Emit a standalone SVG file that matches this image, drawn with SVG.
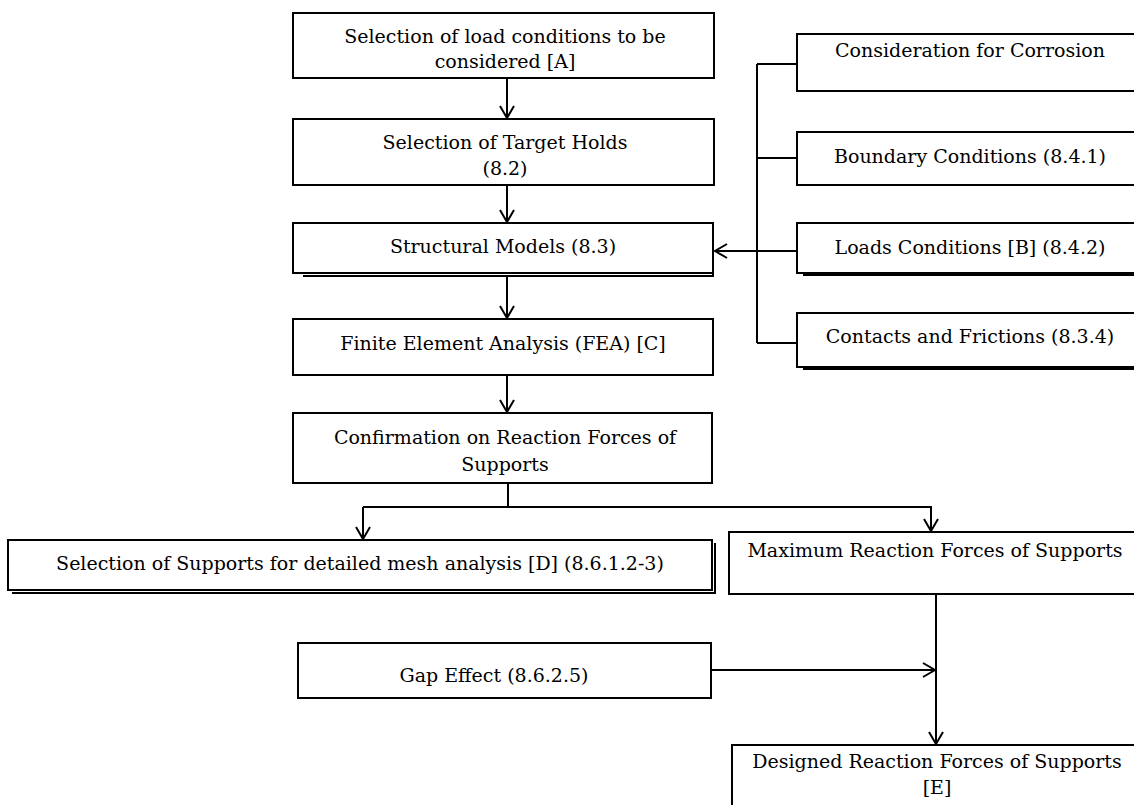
<svg xmlns="http://www.w3.org/2000/svg" width="1134" height="805" viewBox="0 0 1134 805">
<style>
.b{fill:#fff;stroke:#000;stroke-width:2}
.s{fill:none;stroke:#000;stroke-width:2}
.l{fill:none;stroke:#000;stroke-width:2}
text{font-family:"DejaVu Serif","Liberation Serif",serif;font-size:19px;fill:#000;text-anchor:middle}
</style>
<defs>
<marker id="ah" markerWidth="16" markerHeight="16" refX="14" refY="8" orient="auto" markerUnits="userSpaceOnUse">
<path d="M2,1 L14,8 L2,15" fill="none" stroke="#000" stroke-width="2"/>
</marker>
</defs>
<rect width="1134" height="805" fill="#fff"/>
<g id="connectors">
<line class="l" x1="507" y1="78" x2="507" y2="118" marker-end="url(#ah)"/>
<line class="l" x1="507" y1="185" x2="507" y2="222" marker-end="url(#ah)"/>
<line class="l" x1="507" y1="276" x2="507" y2="318" marker-end="url(#ah)"/>
<line class="l" x1="507" y1="375" x2="507" y2="412" marker-end="url(#ah)"/>
<polyline class="l" points="757,64 757,343"/>
<line class="l" x1="757" y1="64" x2="797" y2="64"/>
<line class="l" x1="757" y1="158" x2="797" y2="158"/>
<line class="l" x1="757" y1="343" x2="797" y2="343"/>
<line class="l" x1="797" y1="251" x2="715" y2="251" marker-end="url(#ah)"/>
<line class="l" x1="508" y1="483" x2="508" y2="507"/>
<polyline class="l" points="363,507 931,507 931,531" marker-end="url(#ah)"/>
<line class="l" x1="363" y1="507" x2="363" y2="539" marker-end="url(#ah)"/>
<line class="l" x1="936" y1="594" x2="936" y2="744" marker-end="url(#ah)"/>
<line class="l" x1="711" y1="670" x2="935" y2="670" marker-end="url(#ah)"/>
</g>
<g id="n1"><rect class="b" x="293" y="13" width="421" height="65"/>
<text x="505" y="43">Selection of load conditions to be</text>
<text x="505" y="68">considered [A]</text></g>
<g id="n2"><rect class="b" x="293" y="119" width="421" height="66"/>
<text x="505" y="149">Selection of Target Holds</text>
<text x="505" y="175">(8.2)</text></g>
<g id="n3"><polyline class="s" points="303,276 713,276 713,230"/><rect class="b" x="293" y="223" width="420" height="50"/>
<text x="503" y="253">Structural Models (8.3)</text></g>
<g id="n4"><rect class="b" x="293" y="319" width="420" height="56"/>
<text x="503" y="350">Finite Element Analysis (FEA) [C]</text></g>
<g id="n5"><rect class="b" x="293" y="413" width="419" height="70"/>
<text x="505" y="444">Confirmation on Reaction Forces of</text>
<text x="505" y="471">Supports</text></g>
<g id="n6"><polyline class="s" points="12,593 715,593 715,543"/><rect class="b" x="8" y="540" width="704" height="50"/>
<text x="360" y="570">Selection of Supports for detailed mesh analysis [D] (8.6.1.2-3)</text></g>
<g id="n7"><rect class="b" x="729" y="532" width="420" height="62"/>
<text x="935" y="557">Maximum Reaction Forces of Supports</text></g>
<g id="n8"><rect class="b" x="298" y="643" width="413" height="55"/>
<text x="494" y="682">Gap Effect (8.6.2.5)</text></g>
<g id="n9"><rect class="b" x="732" y="745" width="420" height="70"/>
<text x="937" y="768">Designed Reaction Forces of Supports</text>
<text x="937" y="794">[E]</text></g>
<g id="n10"><rect class="b" x="797" y="34" width="350" height="57"/>
<text x="970" y="57">Consideration for Corrosion</text></g>
<g id="n11"><rect class="b" x="797" y="132" width="350" height="53"/>
<text x="970" y="163">Boundary Conditions (8.4.1)</text></g>
<g id="n12"><line class="s" x1="803" y1="275" x2="1140" y2="275"/><rect class="b" x="797" y="223" width="350" height="50"/>
<text x="970" y="254">Loads Conditions [B] (8.4.2)</text></g>
<g id="n13"><line class="s" x1="803" y1="369" x2="1140" y2="369"/><rect class="b" x="797" y="313" width="350" height="54"/>
<text x="970" y="343">Contacts and Frictions (8.3.4)</text></g>
</svg>
